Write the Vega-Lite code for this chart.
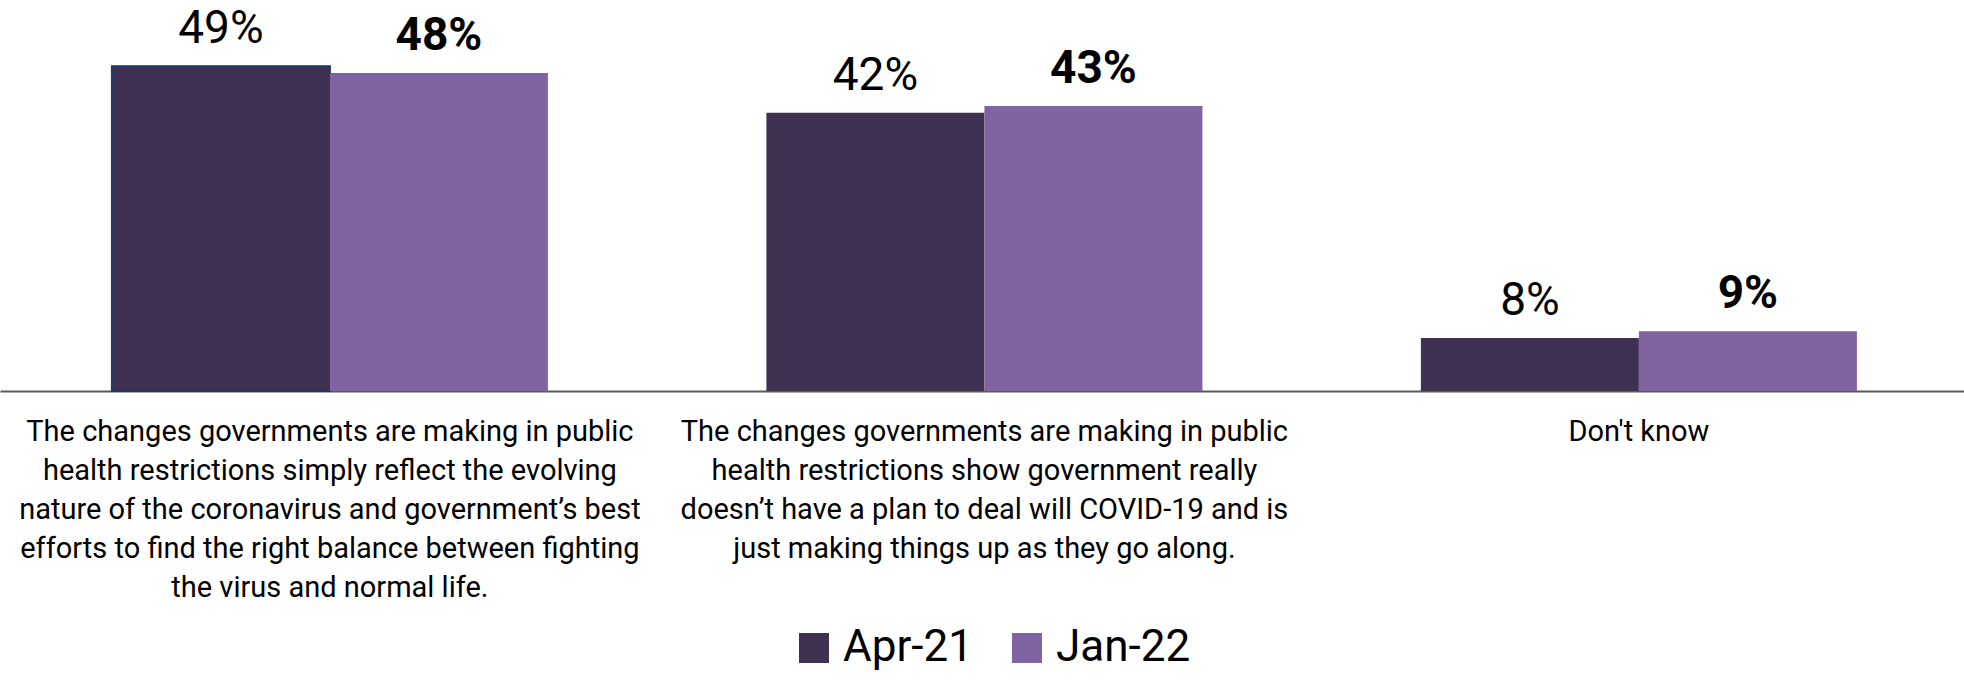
{
  "$schema": "https://vega.github.io/schema/vega-lite/v6.json",
  "width": 1964,
  "height": 391,
  "padding": {"top": 0, "left": 0, "right": 0, "bottom": 30},
  "autosize": {"type": "pad"},
  "background": "white",
  "config": {"view": {"stroke": null}, "font": "Roboto, sans-serif"},
  "data": {
    "values": [
      {"category": "The changes governments are making in public|health restrictions simply reflect the evolving|nature of the coronavirus and government’s best|efforts to find the right balance between fighting|the virus and normal life.", "period": "Apr-21", "value": 0.49},
      {"category": "The changes governments are making in public|health restrictions simply reflect the evolving|nature of the coronavirus and government’s best|efforts to find the right balance between fighting|the virus and normal life.", "period": "Jan-22", "value": 0.48},
      {"category": "The changes governments are making in public|health restrictions show government really|doesn’t have a plan to deal will COVID-19 and is|just making things up as they go along.", "period": "Apr-21", "value": 0.42},
      {"category": "The changes governments are making in public|health restrictions show government really|doesn’t have a plan to deal will COVID-19 and is|just making things up as they go along.", "period": "Jan-22", "value": 0.43},
      {"category": "Don't know", "period": "Apr-21", "value": 0.08},
      {"category": "Don't know", "period": "Jan-22", "value": 0.09}
    ]
  },
  "encoding": {
    "x": {
      "field": "category",
      "type": "nominal",
      "sort": null,
      "scale": {"paddingInner": 0.3338, "paddingOuter": 0.1673, "align": 0.511},
      "axis": {
        "title": null,
        "labelExpr": "split(datum.label, '|')",
        "labelAngle": 0,
        "labelLimit": 0,
        "labelFontSize": 29,
        "labelLineHeight": 39,
        "labelPadding": 26,
        "labelColor": "#000000",
        "labelOverlap": false,
        "labelBound": false,
        "labelFlush": false,
        "ticks": false,
        "domainColor": "#5a5a5a",
        "domainWidth": 2
      }
    },
    "xOffset": {
      "field": "period",
      "type": "nominal",
      "scale": {"domain": ["Apr-21", "Jan-22"], "paddingInner": 0, "paddingOuter": 0}
    },
    "y": {
      "field": "value",
      "type": "quantitative",
      "scale": {"domain": [0, 0.59], "nice": false, "zero": true},
      "axis": null
    }
  },
  "layer": [
    {
      "mark": {"type": "bar", "strokeWidth": 2},
      "encoding": {
        "color": {
          "field": "period",
          "type": "nominal",
          "scale": {"domain": ["Apr-21", "Jan-22"], "range": ["#403152", "#8064A2"]},
          "legend": {
            "title": null,
            "orient": "none",
            "legendX": 792,
            "legendY": 626,
            "direction": "horizontal",
            "symbolType": "square",
            "symbolSize": 900,
            "symbolStrokeWidth": 0,
            "labelFontSize": 44,
            "labelColor": "#000000",
            "labelOffset": 7,
            "columnPadding": 32
          }
        },
        "stroke": {
          "condition": {"test": "datum.period === 'Apr-21' && indexof(datum.category, 'evolving') >= 0", "value": "#1f3864"},
          "value": "transparent"
        }
      }
    },
    {
      "transform": [{"filter": "datum.period === 'Apr-21'"}],
      "mark": {"type": "text", "baseline": "alphabetic", "dy": -23, "fontSize": 46, "color": "#000000"},
      "encoding": {"text": {"field": "value", "type": "quantitative", "format": ".0%"}}
    },
    {
      "transform": [{"filter": "datum.period === 'Jan-22'"}],
      "mark": {"type": "text", "baseline": "alphabetic", "dy": -23, "fontSize": 46, "fontWeight": "bold", "color": "#000000"},
      "encoding": {"text": {"field": "value", "type": "quantitative", "format": ".0%"}}
    }
  ]
}
